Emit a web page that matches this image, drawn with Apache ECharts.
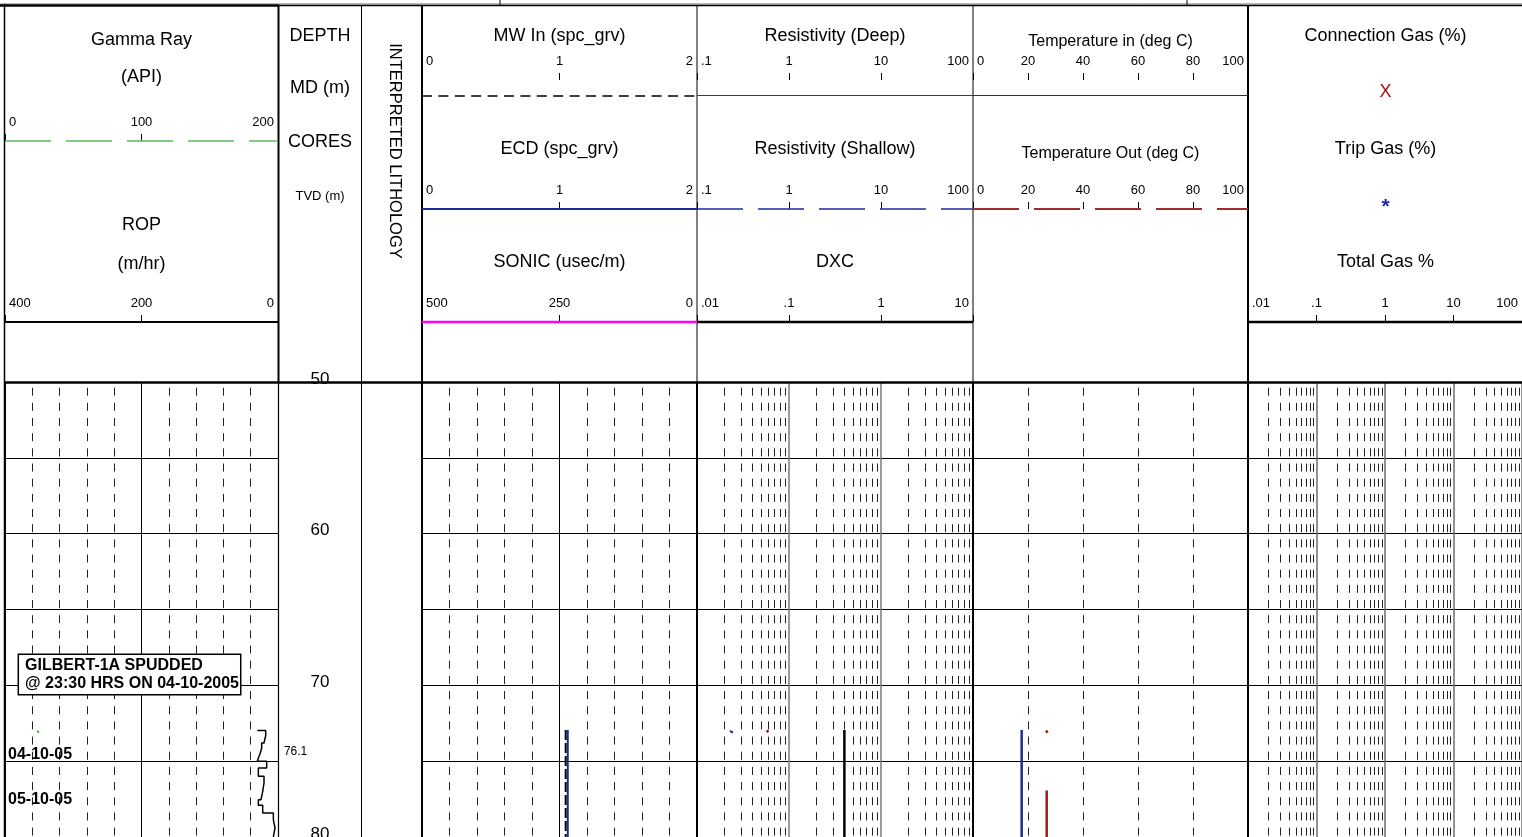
<!DOCTYPE html>
<html>
<head>
<meta charset="utf-8">
<script src="https://cdn.jsdelivr.net/npm/echarts/dist/echarts.min.js"></script>
<style>
html,body{margin:0;padding:0;background:#fff;}
#chart{width:1522px;height:837px;}
</style>
</head>
<body>
<div id="chart"></div>
<script>
// ---------------- DATA ----------------
const depthRange = [50, 80];
const depthLabelStep = 10;
const gridDepthStep = 5;

// header scale tick labels
const gammaTicks = [0, 100, 200];
const ropTicks = [400, 200, 0];
const mwTicks = [0, 1, 2];
const ecdTicks = [0, 1, 2];
const sonicTicks = [500, 250, 0];
const resDeepTicks = [0.1, 1, 10, 100];
const resShallowTicks = [0.1, 1, 10, 100];
const dxcTicks = [0.01, 0.1, 1, 10];
const tempInTicks = [0, 20, 40, 60, 80, 100];
const tempOutTicks = [0, 20, 40, 60, 80, 100];
const totalGasTicks = [0.01, 0.1, 1, 10, 100];

// ROP (m/hr) step curve: interval boundaries (m) and value in each interval
const ropTopValue = 30.3;
const ropDepth = [72.97, 73.30, 73.80, 74.13, 74.53, 74.79, 75.01, 75.45, 76.00, 76.44, 76.99, 77.54, 77.91, 78.41, 78.85, 79.40, 80.00];
const ropValue = [18.0, 20.5, 23.9, 26.4, 28.8, 30.3, 16.6, 28.8, 20.5, 22.4, 24.9, 28.8, 22.4, 6.8, 4.4, 6.8];

// Gamma ray (API)
const grDepth = [72.99, 73.12];
const grValue = [23.4, 24.9];

// MW in / ECD (spc_grv)
const mwDepth = [72.94, 80.0];
const mwValue = [1.045, 1.045];
const ecdDepth = [72.94, 80.0];
const ecdValue = [1.06, 1.06];

// Resistivity / DXC
const resDeepDepth = [72.99, 73.07];
const resDeepValue = [0.57, 0.60];
const resShallowDepth = [73.00, 73.12];
const resShallowValue = [0.228, 0.246];
const dxcDepth = [72.94, 80.0];
const dxcValue = [0.40, 0.40];

// Temperature (deg C)
const tempInDepth = [72.94, 80.0];
const tempInValue = [17.7, 17.7];
const tempOutDepth = [72.99, 73.12, null, 76.94, 80.0];
const tempOutValue = [26.5, 27.2, null, 26.8, 26.8];

// Annotations
const track1Notes = [
  { text: 'GILBERT-1A SPUDDED\n@ 23:30 HRS ON 04-10-2005', depth: 69.28, boxed: true },
  { text: '04-10-05', depth: 74.59, boxed: false },
  { text: '05-10-05', depth: 77.55, boxed: false }
];
const depthNotes = [{ text: '76.1', depth: 74.39 }];

// ---------------- BUILD ----------------
const FONT = "'Liberation Sans', Arial, Helvetica, sans-serif";
const TOP = 382, H = 455;
const pairs = (vals, deps) => vals.map((v, i) => (v == null || deps[i] == null) ? [null, null] : [v, deps[i]]);

const ropData = [[ropTopValue, ropDepth[0]]];
ropValue.forEach((v, i) => { ropData.push([v, ropDepth[i]]); ropData.push([v, ropDepth[i + 1]]); });

const logFmt = v => { const s = String(+(+v).toPrecision(6)); return s.indexOf('0.') === 0 ? s.slice(1) : s; };

function hdrAxis(grid, ticks, y, opt) {
  opt = opt || {};
  const isLog = opt.log;
  const lo = Math.min(ticks[0], ticks[ticks.length - 1]);
  const hi = Math.max(ticks[0], ticks[ticks.length - 1]);
  const inverse = ticks[0] > ticks[ticks.length - 1];
  const a = {
    gridIndex: grid, type: isLog ? 'log' : 'value', min: lo, max: hi, inverse: inverse,
    position: 'top', offset: TOP - y,
    axisLine: { show: false },
    axisTick: { show: true, length: 7, lineStyle: { color: '#000', width: 1 } },
    axisLabel: {
      show: true, fontSize: 13, color: '#000', margin: 12, fontFamily: FONT,
      padding: [0, 4, 0, 4],
      showMinLabel: true, showMaxLabel: true,
      alignMinLabel: inverse ? 'right' : 'left',
      alignMaxLabel: inverse ? 'left' : 'right',
      formatter: isLog ? logFmt : (v => String(v))
    },
    splitLine: { show: false }
  };
  if (isLog) a.logBase = 10; else a.interval = Math.abs(ticks[1] - ticks[0]);
  return Object.assign(a, opt.extra || {});
}

const dashGrid = { color: '#222', width: 1, type: [8, 7.17], dashOffset: 9.5 };

const xAxes = [
  hdrAxis(0, gammaTicks, 141, { extra: {
    splitLine: { show: true, lineStyle: { color: '#000', width: 1 } },
    minorTick: { show: false, splitNumber: 5 },
    minorSplitLine: { show: true, lineStyle: dashGrid } } }),
  hdrAxis(0, ropTicks, 322),
  { gridIndex: 1, type: 'value', min: 0, max: 1, show: false },
  hdrAxis(2, mwTicks, 80, { extra: {
    splitLine: { show: true, lineStyle: { color: '#000', width: 1 } },
    minorTick: { show: false, splitNumber: 5 },
    minorSplitLine: { show: true, lineStyle: dashGrid } } }),
  hdrAxis(2, ecdTicks, 209),
  hdrAxis(2, sonicTicks, 322),
  hdrAxis(3, resDeepTicks, 80, { log: true, extra: {
    splitLine: { show: true, lineStyle: { color: '#7a7a7a', width: 1.5 } } } }),
  hdrAxis(3, resShallowTicks, 209, { log: true }),
  hdrAxis(3, dxcTicks, 322, { log: true }),
  hdrAxis(4, tempInTicks, 80, { extra: {
    splitLine: { show: true, lineStyle: dashGrid } } }),
  hdrAxis(4, tempOutTicks, 209),
  hdrAxis(5, totalGasTicks, 322, { log: true, extra: {
    splitLine: { show: true, lineStyle: { color: '#6e6e6e', width: 1.5 } } } })
];

const gridBase = { top: TOP, height: H, containLabel: false, outerBoundsMode: 'none' };
const grids = [
  Object.assign({ left: 5, width: 273 }, gridBase),
  Object.assign({ left: 279, width: 82 }, gridBase),
  Object.assign({ left: 422, width: 275 }, gridBase),
  Object.assign({ left: 697, width: 276 }, gridBase),
  Object.assign({ left: 973, width: 275 }, gridBase),
  Object.assign({ left: 1248, width: 274 }, gridBase)
];

const yAxes = grids.map((g, i) => {
  const y = {
    gridIndex: i, type: 'value', inverse: true, min: depthRange[0], max: depthRange[1],
    interval: gridDepthStep,
    axisLine: { show: false }, axisTick: { show: false }, axisLabel: { show: false },
    splitLine: { show: true, lineStyle: { color: '#000', width: 1 } }
  };
  if (i === 1) {
    y.interval = depthLabelStep;
    y.splitLine = { show: false };
    y.axisLabel = { show: true, fontSize: 17, color: '#000', fontFamily: FONT, align: 'center',
      verticalAlign: 'bottom', lineHeight: 6,
      margin: -41, showMinLabel: true, showMaxLabel: true };
  }
  return y;
});

// minor log grid lines (2..9 of each decade) - grid line positions
function logMinor(ticks) {
  const out = [];
  for (let k = 0; k < ticks.length - 1; k++) for (let m = 2; m <= 9; m++) out.push(+(ticks[k] * m).toPrecision(6));
  return out;
}
function vLines(values) {
  return { silent: true, symbol: ['none', 'none'], label: { show: false }, animation: false,
    emphasis: { disabled: true }, lineStyle: dashGrid, data: values.map(v => ({ xAxis: v })) };
}

const lineS = (name, xi, yi, data, color, width, type, extra) => Object.assign({
  name, type: 'line', xAxisIndex: xi, yAxisIndex: yi, data, showSymbol: false, symbol: 'none',
  lineStyle: { color, width, type: type || 'solid' }, connectNulls: false, animation: false, silent: true, z: 5
}, extra || {});

const noteLabel = (text, size, bold, boxed) => Object.assign({
  show: true, position: 'right', distance: 0, formatter: text, fontFamily: FONT,
  fontSize: size, fontWeight: bold ? 'bold' : 'normal', color: '#000', opacity: 1,
  align: 'left', verticalAlign: 'middle'
}, boxed ? { lineHeight: 18, backgroundColor: '#fff', borderColor: '#000', borderWidth: 1.5, padding: [2, 1, 1, 6] } : {});

const series = [
  lineS('Gamma Ray', 0, 0, pairs(grValue, grDepth), '#3a9a3a', 1.5),
  lineS('ROP', 1, 0, ropData, '#000', 1.5),
  {
    type: 'scatter', xAxisIndex: 0, yAxisIndex: 0, symbolSize: 0, silent: true, animation: false, z: 10,
    itemStyle: { opacity: 1 },
    data: track1Notes.map(n => ({
      value: [n.boxed ? 10.3 : 2.2, n.depth],
      label: noteLabel(n.text, 16, true, n.boxed)
    }))
  },
  {
    type: 'scatter', xAxisIndex: 2, yAxisIndex: 1, symbolSize: 0, silent: true, animation: false,
    itemStyle: { opacity: 1 },
    data: depthNotes.map(n => ({ value: [0.06, n.depth], label: noteLabel(n.text, 12, false, false) }))
  },
  lineS('MW In', 3, 2, pairs(mwValue, mwDepth), '#000', 2, [10, 3]),
  lineS('ECD', 4, 2, pairs(ecdValue, ecdDepth), '#1f2a9a', 2),
  lineS('Resistivity (Deep)', 6, 3, pairs(resDeepValue, resDeepDepth), '#9b1010', 2.5, 'solid',
    { markLine: vLines(logMinor(resDeepTicks)) }),
  lineS('Resistivity (Shallow)', 7, 3, pairs(resShallowValue, resShallowDepth), '#1f2a9a', 2),
  lineS('DXC', 8, 3, pairs(dxcValue, dxcDepth), '#000', 2.5),
  lineS('Temperature in', 9, 4, pairs(tempInValue, tempInDepth), '#1f2a9a', 2.5),
  lineS('Temperature Out', 10, 4, pairs(tempOutValue, tempOutDepth), '#9b1a1a', 2.5),
  lineS('Total Gas', 11, 5, [], '#000', 1.5, 'solid', { markLine: vLines(logMinor(totalGasTicks)) })
];

// ---------------- GRAPHIC (frame, titles, legend strokes) ----------------
const G = [];
function L(x1, y1, x2, y2, w, c, dash) {
  G.push({ type: 'line', silent: true, z: 50, shape: { x1, y1, x2, y2 },
    style: { stroke: c || '#000', lineWidth: w, lineDash: dash || null } });
}
function T(x, y, text, size, o) {
  o = o || {};
  G.push({ type: 'text', silent: true, z: 50, x, y, rotation: o.rot || 0,
    style: { text, fontSize: size, fontFamily: FONT, fontWeight: o.bold ? 'bold' : 'normal',
      fill: o.color || '#000', align: 'center', verticalAlign: 'middle' } });
}
// frame
L(0, 4, 1522, 4, 1, '#777');
L(279, 5.5, 1522, 5.5, 1.5);
L(0, 5.5, 279, 5.5, 2.5);
L(500, 0, 500, 5, 1); L(1187, 0, 1187, 5, 1);
L(4.5, 4, 4.5, 837, 1.5);
L(278.5, 5, 278.5, 382, 2); L(278.5, 382, 278.5, 837, 1.2);
L(361.5, 5, 361.5, 837, 1);
L(422, 5, 422, 837, 2);
L(697, 5, 697, 382, 1); L(697, 382, 697, 837, 2);
L(973, 5, 973, 382, 1); L(973, 382, 973, 837, 2);
L(1248, 5, 1248, 837, 2);
L(4, 382.5, 1522, 382.5, 2.5);
// legend strokes
L(5, 141, 278, 141, 1.5, '#5cb85c', [46, 15]);
L(5, 322, 278, 322, 2, '#000');
L(422, 96, 697, 96, 1.5, '#000', [10, 6.4]);
L(422, 209, 697, 209, 2, '#1f2a9a');
L(422, 322, 697, 322, 2.5, '#ff00ff');
L(697, 95.5, 973, 95.5, 1, '#8b1a1a');
L(697, 209, 973, 209, 1.5, '#1f2a9a', [46, 15]);
L(697, 322, 973, 322, 2.5, '#000');
L(973, 95.5, 1248, 95.5, 1, '#1f2a9a');
L(973, 209, 1248, 209, 2, '#a52a2a', [46, 15]);
L(1248, 322, 1522, 322, 2.5, '#000');
// titles
T(141.5, 40, 'Gamma Ray', 18); T(141.5, 77, '(API)', 18);
T(141.5, 225, 'ROP', 18); T(141.5, 264, '(m/hr)', 18);
T(320, 36, 'DEPTH', 18); T(320, 88, 'MD (m)', 18); T(320, 142, 'CORES', 18); T(320, 196, 'TVD (m)', 13);
T(395, 151, 'INTERPRETED LITHOLOGY', 16.5, { rot: -Math.PI / 2 });
T(559.5, 36, 'MW In (spc_grv)', 18); T(559.5, 149, 'ECD (spc_grv)', 18); T(559.5, 262, 'SONIC (usec/m)', 18);
T(835, 36, 'Resistivity (Deep)', 18); T(835, 149, 'Resistivity (Shallow)', 18); T(835, 262, 'DXC', 18);
T(1110.5, 41.5, 'Temperature in (deg C)', 16); T(1110.5, 153.5, 'Temperature Out (deg C)', 16);
T(1385.5, 36, 'Connection Gas (%)', 18); T(1385.5, 92.5, 'X', 18, { color: '#a81010' });
T(1385.5, 149, 'Trip Gas (%)', 18); T(1385.5, 207, '*', 21, { color: '#1f2a9a', bold: true });
T(1385.5, 262, 'Total Gas %', 18);

const chart = echarts.init(document.getElementById('chart'), null, { renderer: 'canvas' });
chart.setOption({
  animation: false,
  backgroundColor: '#fff',
  textStyle: { fontFamily: FONT },
  grid: grids,
  xAxis: xAxes,
  yAxis: yAxes,
  series: series,
  graphic: { elements: G }
});
</script>
</body>
</html>
